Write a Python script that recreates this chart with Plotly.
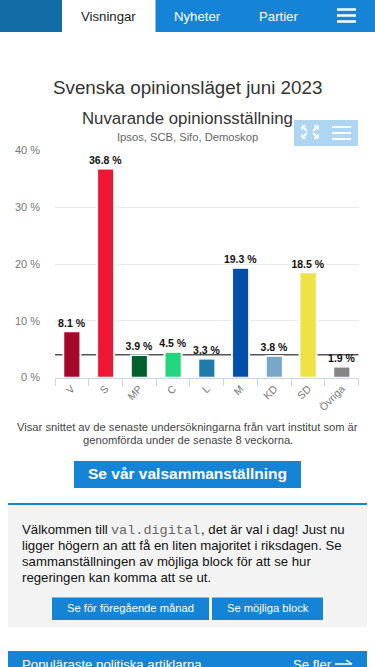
import plotly.graph_objects as go

W, H = 375, 690  # the page viewport (667 px high) crops the lower part, as in the reference
parties = ["V", "S", "MP", "C", "L", "M", "KD", "SD", "Övriga"]
values = [8.1, 36.8, 3.9, 4.5, 3.3, 19.3, 3.8, 18.5, 1.9]
colors = ["#A5082A", "#ED1733", "#00612F", "#22D67E", "#1F7BAA", "#004EA8", "#79A7C8", "#EFE244", "#858585"]
threshold = 4
y_ticks = [0, 10, 20, 30, 40]
y_labels = ["0 %", "10 %", "20 %", "30 %", "40 %"]

BLUE = "#1684D6"
FONT = "Liberation Sans"

def X(p): return p / W
def Y(p): return 1 - p / H

fig = go.Figure()
fig.add_trace(go.Bar(
    x=parties, y=values, width=0.47,
    marker=dict(color=colors, line=dict(color="rgba(255,255,255,0.6)", width=1)),
    text=[f"{v} %" for v in values], textposition="outside", textangle=0,
    constraintext="none",
    textfont=dict(family=FONT, size=10.5, color="#111111", weight="bold"),
    cliponaxis=False, showlegend=False))
# white halos around the bars interrupting the threshold line
fig.add_trace(go.Bar(
    x=parties, y=values, width=0.52,
    marker=dict(color="rgba(0,0,0,0)", line=dict(color="#ffffff", width=1.5)),
    hoverinfo="skip", showlegend=False))

fig.update_layout(
    width=W, height=H, autosize=False, margin=dict(l=0, r=0, t=0, b=0),
    paper_bgcolor="#ffffff", plot_bgcolor="#ffffff",
    font=dict(family=FONT), barmode="overlay", showlegend=False,
    xaxis=dict(domain=[X(55), X(358.7)], anchor="y", type="category", automargin=False,
               categoryorder="array", categoryarray=parties,
               range=[-0.5, 8.5], tickangle=-45, ticks="outside", ticklen=7,
               tickcolor="#CCD6EB", tickson="boundaries", showline=True,
               linecolor="#CCD6EB", linewidth=1, showgrid=False,
               tickfont=dict(size=10.5, color="#777777", family=FONT)),
    yaxis=dict(domain=[Y(377.5), Y(150.5)], anchor="x", range=[0, 40], automargin=False,
               tickvals=y_ticks, ticktext=y_labels, gridcolor="#EAEAEA",
               gridwidth=1, zeroline=False, showline=False, ticks="",
               ticklabelstandoff=14,
               tickfont=dict(size=11, color="#777777", family=FONT)),
)

shapes = [dict(type="line", xref="x", yref="y", x0=-0.5, x1=8.5, y0=threshold, y1=threshold,
               line=dict(color="#555555", width=1.5), layer="between")]
def rect(x0, y0, x1, y1, fill, layer="above"):
    shapes.append(dict(type="rect", xref="paper", yref="paper", x0=X(x0), x1=X(x1),
                       y0=Y(y0), y1=Y(y1), fillcolor=fill, line_width=0, layer=layer))
def seg(x0, y0, x1, y1, color, w=2):
    shapes.append(dict(type="line", xref="paper", yref="paper", x0=X(x0), x1=X(x1),
                       y0=Y(y0), y1=Y(y1), line=dict(color=color, width=w), layer="above"))

# nav bar
rect(0, 0, 375, 32, BLUE)
rect(0, 0, 62, 32, "#126DA6")
rect(62, 0, 155.5, 32, "#ffffff")
for yy in (10, 16, 22):
    seg(337, yy - 0.5, 356, yy - 0.5, "#ffffff", 2.5)
# chart export buttons
rect(294, 120, 358, 146, "#AED5F1")
for yy in (127, 133, 139):
    seg(332, yy, 351, yy, "#ffffff", 2)
for (a, b, c, d) in [(302, 126, 307, 131), (318, 126, 313, 131), (302, 138, 307, 133), (318, 138, 313, 133)]:
    seg(a, b, c, d, "#ffffff", 2)
for (a, b, c, d) in [(302, 126, 306, 126), (302, 126, 302, 130), (318, 126, 314, 126), (318, 126, 318, 130),
                     (302, 138, 306, 138), (302, 138, 302, 134), (318, 138, 314, 138), (318, 138, 318, 134)]:
    seg(a, b, c, d, "#ffffff", 1.5)
# main button
rect(74, 461, 301, 488, BLUE)
# info box
rect(8, 504, 367, 627, "#F3F3F3", "below")
rect(8, 503, 367, 505, BLUE)
rect(52, 597.5, 209, 620, BLUE)
rect(212, 597.5, 323, 620, BLUE)
# bottom bar
rect(8, 651, 367, 685, BLUE)
seg(335, 664, 352, 664, "#ffffff", 1.5)
seg(346, 660, 352, 664, "#ffffff", 1.5)
fig.update_layout(shapes=shapes)

def text(x, y, s, size, color="#333333", anchor="center", weight=None, family=FONT):
    fig.add_annotation(xref="paper", yref="paper", x=X(x), y=Y(y), text=s, showarrow=False,
                       xanchor=anchor, yanchor="middle", align=anchor,
                       font=dict(size=size, color=color, family=family, weight=weight),
                       borderpad=0, borderwidth=0)

text(108.5, 16, "Visningar", 13.2, "#222222")
text(197.5, 16, "Nyheter", 13.2, "#ffffff")
text(278.5, 16, "Partier", 13.2, "#ffffff")
text(187.5, 88, "Svenska opinionsläget juni 2023", 18.8, "#333333")
text(187.5, 119, "Nuvarande opinionsställning", 16.8, "#333333")
text(187.5, 137, "Ipsos, SCB, Sifo, Demoskop", 11.2, "#666666")
text(187.5, 427, "Visar snittet av de senaste undersökningarna från vart institut som är", 11.2, "#444444")
text(187.5, 440, "genomförda under de senaste 8 veckorna.", 11.2, "#444444")
text(187.5, 473, "Se vår valsammanställning", 15.5, "#ffffff", weight="bold")
text(22, 529, 'Välkommen till', 13.2, "#111111", "left")
text(110.5, 530, "val.digital", 13.5, "#666666", "left", family="Liberation Mono")
text(200.5, 529, ", det är val i dag! Just nu", 13.2, "#111111", "left")
text(22, 545, "ligger högern an att få en liten majoritet i riksdagen. Se", 13.2, "#111111", "left")
text(22, 561, "sammanställningen av möjliga block för att se hur", 13.2, "#111111", "left")
text(22, 577, "regeringen kan komma att se ut.", 13.2, "#111111", "left")
text(130.5, 608, "Se för föregående månad", 11.2, "#ffffff")
text(267.5, 608, "Se möjliga block", 11.2, "#ffffff")
text(22, 664, "Populäraste politiska artiklarna", 13.2, "#ffffff", "left")
text(293, 664, "Se fler", 13.2, "#ffffff", "left")

fig.write_html("out.html", config=dict(displayModeBar=False),
               post_script="document.body.style.margin='0';document.documentElement.style.overflow='hidden';")
